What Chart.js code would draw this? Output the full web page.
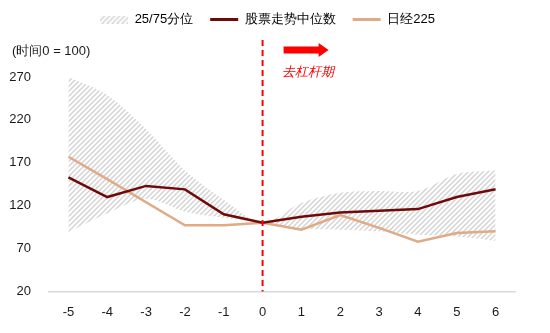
<!DOCTYPE html>
<html>
<head>
<meta charset="utf-8">
<script src="https://cdn.jsdelivr.net/npm/chart.js@4.4.0/dist/chart.umd.min.js"></script>
<style>
  html, body { margin: 0; padding: 0; background: #fff; }
  #wrap { width: 550px; height: 333px; }
</style>
</head>
<body>
<div id="wrap"><canvas id="myChart"></canvas></div>
<script>
// data
const xLabels = ['-5', '-4', '-3', '-2', '-1', '0', '1', '2', '3', '4', '5', '6']
const medianValues = [153, 130, 143, 139, 110, 100, 107, 112, 114, 116, 130, 139]
const nikkeiValues = [177, 151, 124, 97, 97, 100, 92, 109, 94, 78, 88, 90]
const upperBand = [270, 249, 209, 161, 127, 100, 123, 135, 137, 137, 157, 161]
const lowerBand = [89, 111, 128, 113, 106, 100, 93, 92, 90, 86, 84, 79]
const yTicks = [20, 70, 120, 170, 220, 270]

const darkRed = '#6e0a0a'
const tan = '#dfaa86'
const fontFamily = "'Liberation Sans', Arial, sans-serif"

// hatched fill for the 25/75 band
function makeHatch () {
    const c = document.createElement('canvas')
    c.width = 5
    c.height = 5
    const g = c.getContext('2d')
    g.fillStyle = '#fff'
    g.fillRect(0, 0, 5, 5)
    g.strokeStyle = '#d4d4d4'
    g.lineWidth = 1.5
    g.beginPath()
    g.moveTo(-1, 6); g.lineTo(6, -1)
    g.moveTo(-1, 1); g.lineTo(1, -1)
    g.moveTo(4, 6); g.lineTo(6, 4)
    g.stroke()
    return g.createPattern(c, 'repeat')
}
const hatch = makeHatch()

// legend swatch for the band
const swatch = document.createElement('canvas')
swatch.width = 28
swatch.height = 8
const sctx = swatch.getContext('2d')
sctx.fillStyle = hatch
sctx.fillRect(0, 0, 28, 8)

// extra room under the legend, legend nudged right
const legendSpace = {
    id: 'legendSpace',
    beforeInit (chart) {
        const fit = chart.legend.fit
        chart.legend.fit = function () {
            fit.bind(this)()
            this.height += 41
        }
    },
    afterLayout (chart) {
        chart.legend.left += 8
        chart.legend.right += 8
    }
}

// dashed line at 0, arrow and labels
const annotations = {
    id: 'annotations',
    afterDatasetsDraw (chart) {
        const ctx = chart.ctx
        const x = chart.scales.x.getPixelForValue(5)
        const bottom = chart.chartArea.bottom
        ctx.save()
        ctx.strokeStyle = '#ff0000'
        ctx.lineWidth = 2
        ctx.setLineDash([6, 4])
        ctx.beginPath()
        ctx.moveTo(x, 40)
        ctx.lineTo(x, bottom)
        ctx.stroke()
        ctx.setLineDash([])

        // arrow
        ctx.fillStyle = '#ff0000'
        ctx.beginPath()
        ctx.moveTo(x + 21, 46.5)
        ctx.lineTo(x + 56, 46.5)
        ctx.lineTo(x + 56, 43)
        ctx.lineTo(x + 66, 50)
        ctx.lineTo(x + 56, 57)
        ctx.lineTo(x + 56, 53.5)
        ctx.lineTo(x + 21, 53.5)
        ctx.closePath()
        ctx.fill()

        ctx.font = 'italic 13px ' + fontFamily
        ctx.textBaseline = 'middle'
        ctx.textAlign = 'left'
        ctx.fillText('去杠杆期', x + 19, 72)

        ctx.fillStyle = '#1a1a1a'
        ctx.font = '13px ' + fontFamily
        ctx.fillText('(时间0 = 100)', 12, 51)
        ctx.restore()
    }
}

const ctx = document.getElementById('myChart')
const myChart = new Chart(ctx, {
    type: 'line',
    data: {
        labels: xLabels,
        datasets: [
            {
                label: '股票走势中位数',
                data: medianValues,
                borderColor: darkRed,
                borderWidth: 2.5,
                pointRadius: 0,
                fill: false,
                tension: 0
            },
            {
                label: '日经225',
                data: nikkeiValues,
                borderColor: tan,
                borderWidth: 2.5,
                pointRadius: 0,
                fill: false,
                tension: 0
            },
            {
                label: '25/75分位',
                data: upperBand,
                borderWidth: 0,
                borderColor: 'rgba(0,0,0,0)',
                backgroundColor: hatch,
                pointRadius: 0,
                fill: '+1',
                tension: 0.3
            },
            {
                label: 'lower',
                data: lowerBand,
                borderWidth: 0,
                borderColor: 'rgba(0,0,0,0)',
                pointRadius: 0,
                fill: false,
                tension: 0.3
            }
        ]
    },
    options: {
        responsive: true,
        maintainAspectRatio: false,
        animation: false,
        layout: { padding: { left: 4, right: 35, top: -4, bottom: 0 } },
        plugins: {
            filler: { drawTime: 'beforeDatasetsDraw' },
            tooltip: { enabled: false },
            legend: {
                position: 'top',
                align: 'center',
                labels: {
                    usePointStyle: true,
                    pointStyleWidth: 28,
                    padding: 17,
                    color: '#1a1a1a',
                    font: { family: fontFamily, size: 13 },
                    generateLabels () {
                        return [
                            { text: '25/75分位', pointStyle: swatch, fillStyle: hatch, strokeStyle: 'rgba(0,0,0,0)', lineWidth: 0, datasetIndex: 2 },
                            { text: '股票走势中位数', pointStyle: 'line', strokeStyle: darkRed, lineWidth: 3, datasetIndex: 0 },
                            { text: '日经225', pointStyle: 'line', strokeStyle: tan, lineWidth: 3, datasetIndex: 1 }
                        ]
                    }
                }
            }
        },
        scales: {
            x: {
                offset: true,
                grid: { display: false, drawTicks: false },
                border: { display: true, color: '#d9d9d9', width: 1.5 },
                ticks: { color: '#1a1a1a', padding: 13, font: { family: fontFamily, size: 13 }, maxRotation: 0 }
            },
            y: {
                min: 20,
                max: 270,
                afterBuildTicks (scale) {
                    scale.ticks = yTicks.map(v => ({ value: v }))
                },
                afterFit (scale) { scale.width = 45 },
                grid: { display: false, drawTicks: false },
                border: { display: false },
                ticks: { color: '#1a1a1a', padding: 18, font: { family: fontFamily, size: 13 } }
            }
        }
    },
    plugins: [legendSpace, annotations]
})
</script>
</body>
</html>
